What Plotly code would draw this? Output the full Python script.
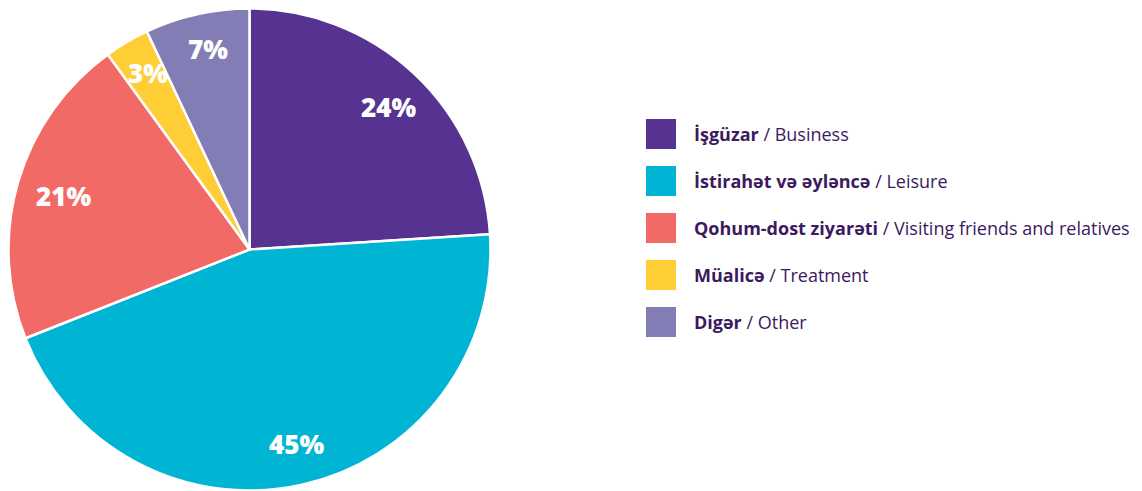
import math
import plotly.graph_objects as go

# ---- data ----
labels_az = ["İşgüzar", "İstirahət və əyləncə", "Qohum-dost ziyarəti", "Müalicə", "Digər"]
labels_en = ["Business", "Leisure", "Visiting friends and relatives", "Treatment", "Other"]
values = [24, 45, 21, 3, 7]
colors = ["#573391", "#00B5D3", "#F26A65", "#FFCD36", "#837DB5"]

W, H = 1142, 491
OFF = 8  # page body margin compensation
TEXT_COLOR = "#3B1A5E"

# pie geometry (pixels in the figure, then paper fractions)
cx_px, cy_px, r_px = 249.5 - OFF, 249.5 - OFF, 241
dom_x = [(cx_px - r_px) / W, (cx_px + r_px) / W]
dom_y = [1 - (cy_px + r_px) / H, 1 - (cy_px - r_px) / H]

fig = go.Figure()
fig.add_trace(go.Pie(
    labels=[f"{a} / {e}" for a, e in zip(labels_az, labels_en)],
    values=values,
    sort=False,
    direction="clockwise",
    rotation=0,
    marker=dict(colors=colors, line=dict(color="white", width=2.5)),
    textinfo="none",
    hoverinfo="label+percent",
    showlegend=False,
    domain=dict(x=dom_x, y=dom_y),
))

annotations = []
shapes = []

# percent labels placed along each slice's mid-angle
total = sum(values)
cum = 0
for v in values:
    mid = (cum + v / 2) / total * 2 * math.pi
    cum += v
    rf = 0.82 if v >= 10 else 0.86
    px = cx_px + rf * r_px * math.sin(mid) + 4
    py = cy_px - rf * r_px * math.cos(mid) + 2
    annotations.append(dict(
        x=px / W, y=1 - py / H, xref="paper", yref="paper",
        text=f"{round(v / total * 100)}%", showarrow=False,
        font=dict(family="Open Sans", size=26, color="white", weight=800),
        xanchor="center", yanchor="middle",
    ))

# custom legend
lx0, sq, row0, gap, tx = 646 - OFF, 30, 134 - OFF, 47, 692 - OFF
for i, (a, e, c) in enumerate(zip(labels_az, labels_en, colors)):
    yc = row0 + i * gap
    shapes.append(dict(
        type="rect", xref="paper", yref="paper",
        x0=lx0 / W, x1=(lx0 + sq) / W,
        y0=1 - (yc + sq / 2) / H, y1=1 - (yc - sq / 2) / H,
        fillcolor=c, line=dict(width=0),
    ))
    annotations.append(dict(
        x=tx / W, y=1 - yc / H, xref="paper", yref="paper",
        text=f"<b>{a}</b> / {e}", showarrow=False,
        font=dict(family="Open Sans", size=18, color=TEXT_COLOR),
        xanchor="left", yanchor="middle",
    ))

fig.update_layout(
    width=W, height=H,
    margin=dict(l=0, r=0, t=0, b=0),
    paper_bgcolor="white", plot_bgcolor="white",
    annotations=annotations, shapes=shapes,
    showlegend=False,
)

fig.write_html("out.html")
